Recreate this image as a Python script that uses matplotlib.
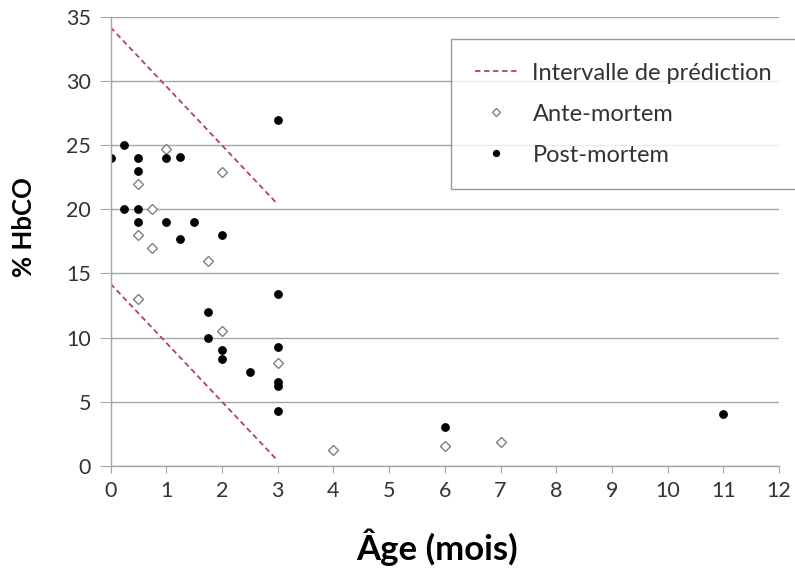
import matplotlib
matplotlib.use("Agg")
import matplotlib.pyplot as plt

# data
ante_x = [1, 0.5, 2, 0.75, 0.5, 0.75, 1.75, 0.5, 2, 3, 4, 6, 7]
ante_y = [24.7, 22, 22.9, 20, 18, 17, 16, 13, 10.5, 8, 1.25, 1.55, 1.85]
post_x = [3, 0.25, 0, 0.5, 1, 1.25, 0.5, 0.25, 0.5, 0.5, 1, 1.5, 1.25, 2,
          3, 1.75, 1.75, 3, 2, 2, 2.5, 3, 3, 3, 6, 11]
post_y = [27, 25, 24, 24, 24, 24.1, 23, 20, 20, 19, 19, 19, 17.7, 18,
          13.4, 12, 10, 9.3, 9, 8.3, 7.35, 6.5, 6.2, 4.3, 3, 4]
pred_x = [0, 3]
pred_upper = [34.2, 20.4]
pred_lower = [14.2, 0.4]

x_ticks = list(range(0, 13))
y_ticks = list(range(0, 36, 5))

plt.rcParams['font.family'] = ['Lato', 'DejaVu Sans']

fig = plt.figure(figsize=(7.95, 5.68), dpi=100)
ax = fig.add_axes([0.139, 0.18, 0.841, 0.79])

grey = '#a6a6a6'
red = '#b04550'
txt = '#333333'

ax.plot(pred_x, pred_upper, linestyle=(0, (3, 2)), color=red, lw=1.3,
        label='Intervalle de prédiction')
ax.plot(pred_x, pred_lower, linestyle=(0, (3, 2)), color=red, lw=1.3)
ax.plot(ante_x, ante_y, 'D', markersize=5, markerfacecolor='white',
        markeredgecolor='#7f7f7f', markeredgewidth=1.0, linestyle='none',
        label='Ante-mortem')
ax.plot(post_x, post_y, 'o', markersize=5.3, color='black', linestyle='none',
        label='Post-mortem')

ax.set_xlim(0, 12)
ax.set_ylim(0, 35)
ax.set_xticks(x_ticks)
ax.set_yticks(y_ticks)
ax.yaxis.grid(True, color=grey, lw=1.0)
ax.set_axisbelow(True)

for s in ['top', 'right']:
    ax.spines[s].set_visible(False)
for s in ['left', 'bottom']:
    ax.spines[s].set_color(grey)
    ax.spines[s].set_linewidth(1.0)
ax.tick_params(axis='y', length=8, color=grey, labelsize=15.5, labelcolor=txt, pad=6)
ax.tick_params(axis='x', length=5, color=grey, labelsize=15.5, labelcolor=txt, pad=6)

ax.set_xlabel('Âge (mois)', fontsize=25, fontweight='bold')
ax.set_ylabel('% HbCO', fontsize=18.5, fontweight='bold')
ax.xaxis.set_label_coords(0.488, -0.14)
ax.yaxis.set_label_coords(-0.112, 0.531)

leg = ax.legend(loc='upper left', bbox_to_anchor=(451 / 795, 1 - 39 / 568),
                bbox_transform=fig.transFigure, borderaxespad=0,
                fontsize=17, frameon=True, fancybox=False, edgecolor='#808080',
                handlelength=1.8, labelspacing=0.85, borderpad=1.0, handletextpad=0.65,
                markerscale=0.8)
leg.get_frame().set_linewidth(1.0)
for t in leg.get_texts():
    t.set_color(txt)

fig.savefig('out.png', dpi=100)
